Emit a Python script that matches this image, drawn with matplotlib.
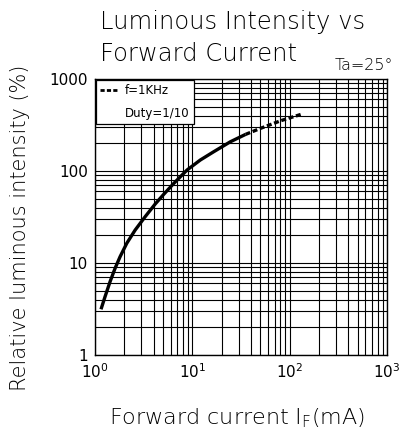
import matplotlib
matplotlib.use('Agg')
import matplotlib.pyplot as plt
from matplotlib.ticker import LogLocator, NullFormatter, FixedLocator, FixedFormatter
from matplotlib.lines import Line2D

plt.rcParams['font.family'] = ['DejaVu Sans']
plt.rcParams['mathtext.default'] = 'regular'

# continuous drive (solid)
if_solid = [1.153, 1.268, 1.428, 1.608, 1.81, 2.122, 2.585, 3.278, 4.155, 5.06,
            6.42, 8.82, 12.09, 16.58, 24.6, 35.2]
iv_solid = [3.14, 4.3, 6.26, 8.75, 11.7, 16.4, 22.8, 31.9, 43.8, 55.5,
            73, 102.5, 131.8, 162, 208, 250]
# pulsed f=1KHz duty 1/10 (dashed)
if_pulse = [35.2, 50.2, 80.8, 135]
iv_pulse = [250, 291, 352, 417]

x_ticks = [1, 10, 100, 1000]
x_labels = ['$10^{0}$', '$10^{1}$', '$10^{2}$', '$10^{3}$']
y_ticks = [1, 10, 100, 1000]
y_labels = ['1', '10', '100', '1000']

fig = plt.figure(figsize=(4.11, 4.33), dpi=100)
ax = fig.add_axes([0.2311, 0.1801, 0.7105, 0.6374])
ax.set_xscale('log')
ax.set_yscale('log')
ax.set_xlim(1, 1000)
ax.set_ylim(1, 1000)

ax.plot(if_solid, iv_solid, color='black', lw=2.4, solid_capstyle='butt')
ax.plot(if_pulse, iv_pulse, color='black', lw=2.4, ls=(0, (1.5, 0.8)))

ax.xaxis.set_major_locator(FixedLocator(x_ticks))
ax.xaxis.set_major_formatter(FixedFormatter(x_labels))
ax.yaxis.set_major_locator(FixedLocator(y_ticks))
ax.yaxis.set_major_formatter(FixedFormatter(y_labels))
for a in (ax.xaxis, ax.yaxis):
    a.set_minor_locator(LogLocator(base=10, subs=range(2, 10)))
    a.set_minor_formatter(NullFormatter())
ax.grid(True, which='both', color='black', lw=0.8)
ax.tick_params(which='both', length=0, labelsize=11, pad=5)
for s in ax.spines.values():
    s.set_linewidth(1.0)

fig.text(0.578, 0.035, 'Forward current I$_F$(mA)', fontsize=16, fontweight='light',
         ha='center', va='center')
fig.text(0.049, 0.473, 'Relative luminous intensity (%)', fontsize=15, fontweight='light',
         rotation=90, ha='center', va='center')

fig.text(0.243, 0.949, 'Luminous Intensity vs', fontsize=17.5, fontweight='light', va='center')
fig.text(0.243, 0.875, 'Forward Current', fontsize=17.5, fontweight='light', va='center')
fig.text(0.815, 0.848, 'Ta=25°', fontsize=11.5, fontweight='light', va='center')

handles = [Line2D([], [], color='black', lw=2, ls=(0, (1.5, 0.8))),
           Line2D([], [], color='none')]
leg = ax.legend(handles, ['f=1KHz', 'Duty=1/10'], loc='upper left',
                fontsize=8.5, handlelength=1.6, handletextpad=0.5,
                borderaxespad=0.1, fancybox=False, framealpha=1,
                edgecolor='black', borderpad=0.35, labelspacing=0.8)
leg.get_frame().set_linewidth(0.9)

fig.savefig('out.png', dpi=100)
